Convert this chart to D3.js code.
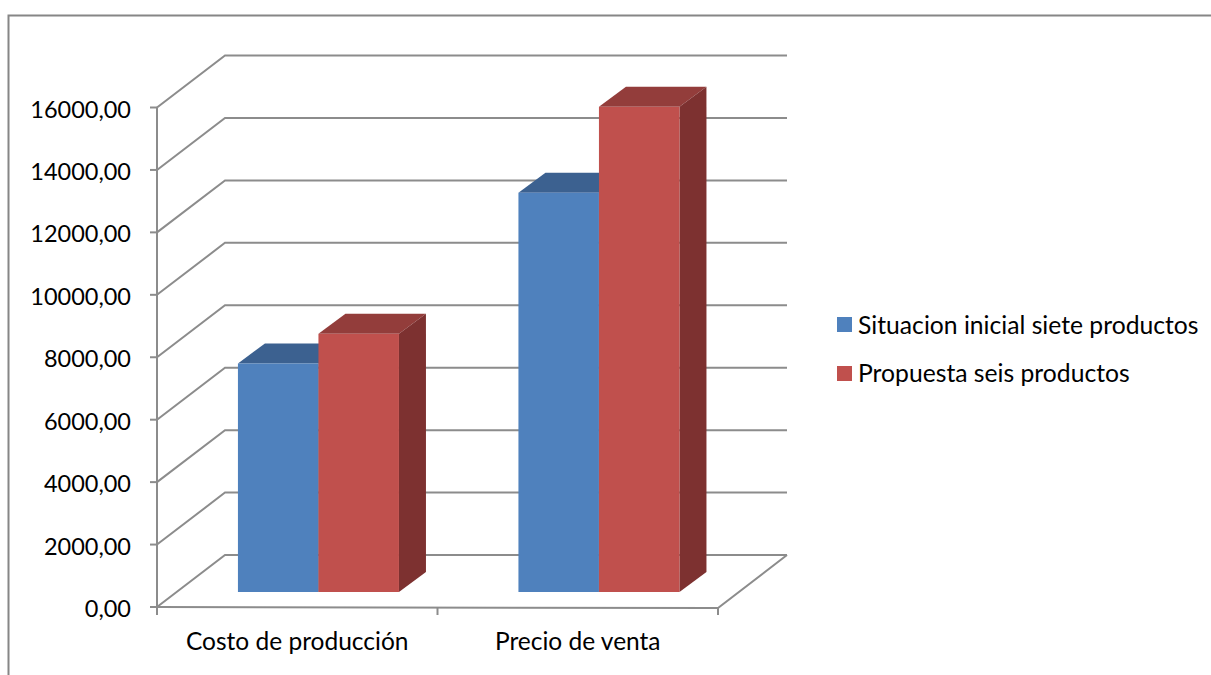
<!DOCTYPE html>
<html>
<head>
<meta charset="utf-8">
<script src="https://cdn.jsdelivr.net/npm/d3@7"></script>
<style>
html, body { margin: 0; padding: 0; background: #fff; }
svg { display: block; }
text { font-family: Lato, "Open Sans", sans-serif; fill: #000; }
</style>
</head>
<body>
<svg id="chart" width="1211" height="675"></svg>
<script>
const categories = ["Costo de producción", "Precio de venta"];
const seriesNames = ["Situacion inicial siete productos", "Propuesta seis productos"];
const inicial = [7320, 12790];
const propuesta = [8270, 15540];
const yTicks = [0, 2000, 4000, 6000, 8000, 10000, 12000, 14000, 16000];
const frontColors = ["#4f81bd", "#c0504d"];
const topColors = ["#3c6190", "#933d3b"];
const sideColors = ["#335379", "#7d3130"];
const gridColor = "#8c8c8c";

const svg = d3.select("#chart");
const fmt = v => d3.format(".2f")(v).replace(".", ",");

const y = d3.scaleLinear().domain([0, 16000]).range([607, 107.5]);
const x0 = d3.scaleBand().domain(categories).range([157, 718]);
const x1 = d3.scaleBand().domain(d3.range(seriesNames.length))
  .range([0, x0.bandwidth()]).paddingOuter(0.742).paddingInner(0);

// Depth of the box: back wall offset, bar offset inside the floor, bar extrusion
const wall = { dx: 68, dy: -52 };
const barInset = { dx: 21.2, dy: -15 };
const barDepth = { dx: 27, dy: -20 };

// Outer frame
svg.append("path")
  .attr("d", "M1211,15.5 H8.5 V675")
  .attr("fill", "none").attr("stroke", "#868686").attr("stroke-width", 2);

const line = d3.line();
const grid = svg.append("g").attr("fill", "none")
  .attr("stroke", gridColor).attr("stroke-width", 2);

// Walls: side and back gridlines for every tick
yTicks.forEach(t => {
  const p = y(t);
  grid.append("path").attr("d", line([
    [x0.range()[0], p],
    [x0.range()[0] + wall.dx, p + wall.dy],
    [x0.range()[1] + wall.dx + 1, p + wall.dy]
  ]));
});

// Floor edges and vertical axis
grid.append("path").attr("d", line([
  [x0.range()[0], y(0)],
  [x0.range()[1], y(0) + 1],
  [x0.range()[1] + wall.dx + 1, y(0) + wall.dy]
]));
grid.append("path").attr("d", line([[x0.range()[0], y(16000)], [x0.range()[0], y(0) + 1]]));

// Tick marks and value labels
yTicks.forEach(t => {
  grid.append("path").attr("d", line([[x0.range()[0] - 7, y(t)], [x0.range()[0], y(t)]]));
  svg.append("text")
    .attr("x", 131).attr("y", y(t) + 10)
    .attr("text-anchor", "end").attr("font-size", 23.5)
    .text(fmt(t));
});
[...categories.map(c => x0(c)), x0.range()[1]].forEach(px => {
  grid.append("path").attr("d", line([[px, y(0) + 1], [px, y(0) + 8]]));
});

// Bars: the face that sits further back is painted first
const scaleH = v => y(0) - y(v);
const baseY = y(0) + barInset.dy;
categories.forEach((c, ci) => {
  [inicial[ci], propuesta[ci]].forEach((v, si) => {
    const left = x0(c) + x1(si) + barInset.dx;
    const right = left + x1.bandwidth();
    const top = baseY - scaleH(v);
    const g = svg.append("g");
    g.append("path").attr("fill", topColors[si]).attr("d", line([
      [left, top], [left + barDepth.dx, top + barDepth.dy],
      [right + barDepth.dx, top + barDepth.dy], [right, top]
    ]) + "Z");
    g.append("path").attr("fill", sideColors[si]).attr("d", line([
      [right, top], [right + barDepth.dx, top + barDepth.dy],
      [right + barDepth.dx, baseY + barDepth.dy], [right, baseY]
    ]) + "Z");
    g.append("rect").attr("fill", frontColors[si])
      .attr("x", left).attr("y", top)
      .attr("width", right - left).attr("height", baseY - top);
  });
});

// Category labels
categories.forEach(c => {
  svg.append("text")
    .attr("x", x0(c) + x0.bandwidth() / 2).attr("y", 650)
    .attr("text-anchor", "middle").attr("font-size", 24.5)
    .text(c);
});

// Legend
seriesNames.forEach((name, i) => {
  svg.append("rect").attr("x", 837).attr("y", 317 + i * 49)
    .attr("width", 15).attr("height", 15).attr("fill", frontColors[i]);
  svg.append("text").attr("x", 858).attr("y", 334 + i * 48)
    .attr("font-size", 24.7).text(name);
});
</script>
</body>
</html>
